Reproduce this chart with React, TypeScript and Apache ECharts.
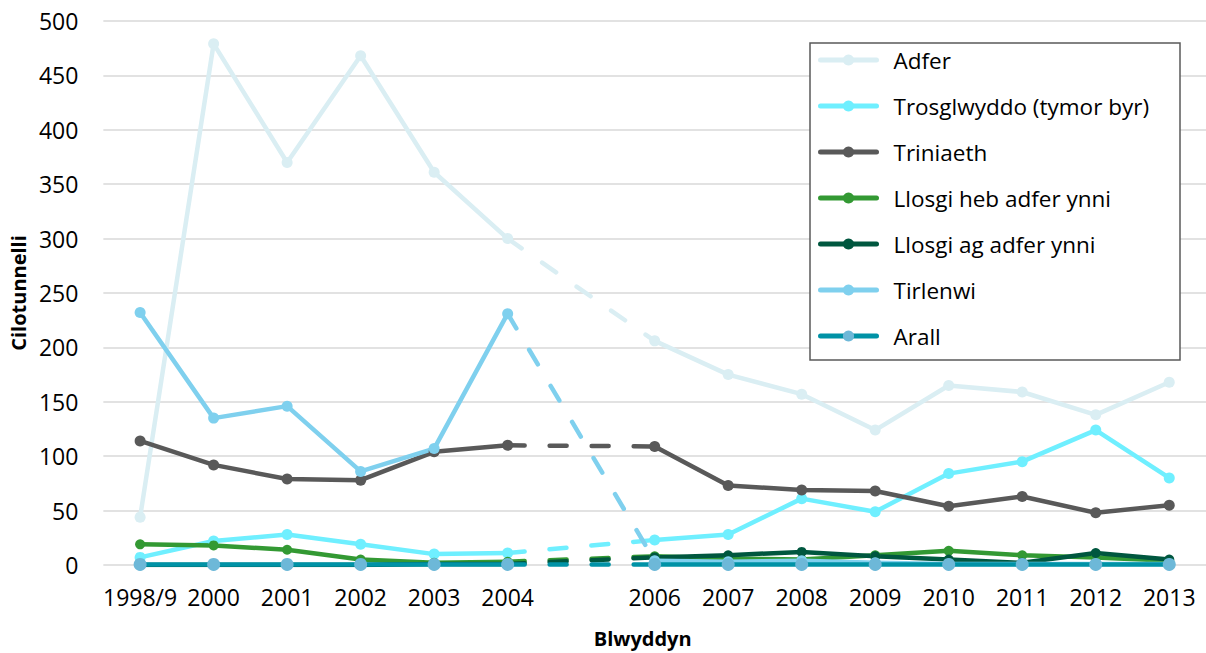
import React, { useEffect, useRef } from "react";
import * as echarts from "echarts";

const categories = ["1998/9", "2000", "2001", "2002", "2003", "2004", "2005", "2006", "2007", "2008", "2009", "2010", "2011", "2012", "2013"];
const hiddenLabels = ["2005"];

const adfer = [44, 479, 370, 468, 361, 300, null, 206, 175, 157, 124, 165, 159, 138, 168];
const trosglwyddo = [7, 22, 28, 19, 10, 11, null, 23, 28, 61, 49, 84, 95, 124, 80];
const triniaeth = [114, 92, 79, 78, 104, 110, null, 109, 73, 69, 68, 54, 63, 48, 55];
const llosgiHeb = [19, 18, 14, 5, 2, 3, null, 8, 6, 5, 9, 13, 9, 7, 4];
const llosgiAg = [0, 0, 0, 0, 1, 1, null, 7, 9, 12, 8, 5, 2, 11, 5];
const tirlenwi = [232, 135, 146, 86, 107, 231, null, 4, 3, 4, 2, 1, 1, 1, 1];
const arall = [0.5, 0.5, 0.5, 0.5, 0.5, 0.5, null, 0.5, 0.5, 0.5, 0.5, 0.5, 0.5, 0.5, 0.5];

const seriesDefs = [
  { name: "Adfer", data: adfer, line: "#DAEEF3", marker: "#DAEEF3", size: 11 },
  { name: "Trosglwyddo (tymor byr)", data: trosglwyddo, line: "#6FEFFF", marker: "#6FEFFF", size: 11 },
  { name: "Triniaeth", data: triniaeth, line: "#595959", marker: "#595959", size: 11 },
  { name: "Llosgi heb adfer ynni", data: llosgiHeb, line: "#339933", marker: "#339933", size: 10 },
  { name: "Llosgi ag adfer ynni", data: llosgiAg, line: "#00573F", marker: "#00573F", size: 10 },
  { name: "Tirlenwi", data: tirlenwi, line: "#7FD0EE", marker: "#7FD0EE", size: 11 },
  { name: "Arall", data: arall, line: "#0092A6", marker: "#6DB8D8", size: 13 },
];

const FONT = "'Open Sans', 'Noto Sans', sans-serif";

export default function App() {
  const ref = useRef<HTMLDivElement>(null);
  useEffect(() => {
    if (!ref.current) return;
    const chart = echarts.init(ref.current, null, { renderer: "svg" });
    const series: any[] = [];
    seriesDefs.forEach((s) => {
      series.push({
        name: s.name,
        type: "line",
        data: s.data,
        connectNulls: false,
        symbol: "circle",
        symbolSize: s.size,
        lineStyle: { color: s.line, width: 4.5, cap: "round", join: "round" },
        itemStyle: { color: s.marker },
        color: s.marker,
        emphasis: { disabled: true },
      });
      const gapIdx = s.data.findIndex((v) => v === null);
      const gapData = s.data.map((v, i) => (i === gapIdx - 1 || i === gapIdx + 1 ? v : null));
      series.push({
        name: s.name + " (bwlch)",
        type: "line",
        data: gapData,
        connectNulls: true,
        showSymbol: false,
        symbol: "none",
        lineStyle: { color: s.line, width: 4.5, type: [17, 25], cap: "round" },
        itemStyle: { color: s.marker },
        emphasis: { disabled: true },
      });
    });
    chart.setOption({
      animation: false,
      textStyle: { fontFamily: FONT },
      grid: { left: 99, top: 21, right: -6, bottom: 86, containLabel: false },
      xAxis: {
        type: "category",
        data: categories,
        boundaryGap: true,
        axisLine: { show: false },
        axisTick: { show: false },
        axisLabel: {
          interval: 0,
          fontSize: 23,
          color: "#000",
          fontFamily: FONT,
          margin: 20,
          formatter: (v: string) => (hiddenLabels.includes(v) ? "" : v),
        },
        name: "Blwyddyn",
        nameLocation: "middle",
        nameGap: 63,
        nameTextStyle: { fontSize: 20, fontWeight: "bold", color: "#000", fontFamily: FONT, padding: [0, 24, 0, 0] },
      },
      yAxis: {
        type: "value",
        min: 0,
        max: 500,
        interval: 50,
        axisLine: { show: false },
        axisTick: { show: false },
        splitLine: { lineStyle: { color: "#D9D9D9", width: 1.5 } },
        axisLabel: { fontSize: 23, color: "#000", fontFamily: FONT, margin: 25 },
        name: "Cilotunnelli",
        nameLocation: "middle",
        nameGap: 67,
        nameTextStyle: { fontSize: 20, fontWeight: "bold", color: "#000", fontFamily: FONT },
      },
      legend: {
        data: seriesDefs.map((s) => s.name),
        orient: "vertical",
        left: 818,
        top: 47,
        padding: 0,
        itemWidth: 56,
        itemHeight: 14,
        itemGap: 20,
        selectedMode: false,
        lineStyle: { width: 5, cap: "round" },
        textStyle: { fontSize: 22.5, lineHeight: 26, color: "#000", fontFamily: FONT, padding: [0, 0, 0, 12] },
      },
      graphic: [
        {
          type: "rect",
          z: 1,
          shape: { x: 810, y: 43, width: 370, height: 317 },
          style: { fill: "#fff", stroke: "#595959", lineWidth: 1.5 },
        },
      ],
      series,
    });
    return () => chart.dispose();
  }, []);
  return <div ref={ref} style={{ position: "absolute", left: 0, top: 0, width: 1206, height: 653 }} />;
}
